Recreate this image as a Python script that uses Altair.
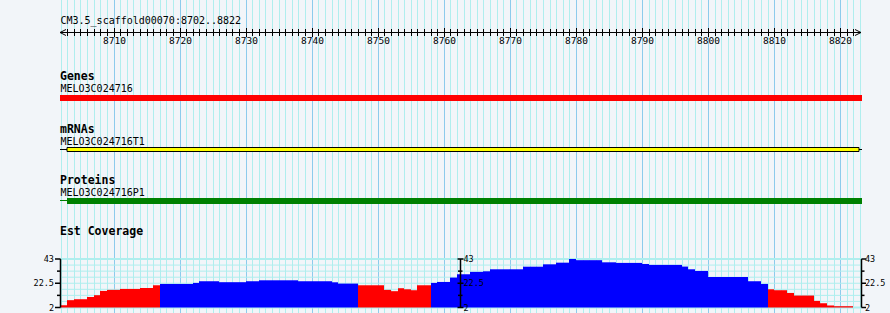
import altair as alt
import pandas as pd

# ---------------- data ----------------
REGION_LABEL = "CM3.5_scaffold00070:8702..8822"
VIEW = [8701.9, 8823.3]                      # visible bp range
GRID_POS = list(range(8702, 8824))           # one grid line per bp
RULER_TICKS = list(range(8703, 8823))
RULER_LABELS = [8710, 8720, 8730, 8740, 8750, 8760, 8770, 8780, 8790, 8800, 8810, 8820]
RULER_SPAN = [8701.9, 8823.1]

TRACK_TITLES = ["Genes", "mRNAs", "Proteins", "Est Coverage"]
FEATURE_NAMES = ["MELO3C024716", "MELO3C024716T1", "MELO3C024716P1"]
GENE_SPAN = [8701.9, 8823.3]
MRNA_LEAD = [8701.9, 8703.0]
MRNA_BOX = [8703.0, 8822.8]
MRNA_TAIL = [8822.8, 8823.3]
PROT_LEAD = [8701.9, 8703.0]
PROT_BOX = [8703.0, 8823.3]

COV_START = 8702
COVERAGE = [
    3.9, 8.2, 9.0, 9.0, 10.9, 12.4, 16.0, 16.9, 16.9, 17.7, 17.7, 17.7, 18.5, 18.5, 20.8,
    21.9, 21.9, 21.9, 21.9, 21.9, 22.8, 24.2, 24.2, 24.2, 23.4, 23.4, 23.4, 23.4, 24.2, 24.2,
    25.0, 25.0, 25.0, 25.0, 25.0, 25.0, 24.2, 24.2, 24.2, 24.2, 24.2, 23.3, 22.2, 22.2, 22.2,
    20.8, 20.8, 20.8, 20.8, 16.9, 15.8, 18.3, 17.4, 16.6, 20.8, 20.8,
    22.8, 23.6, 23.6, 27.3, 30.1, 30.1, 32.1, 32.1, 32.6, 34.3, 34.3, 34.3, 34.3, 34.3,
    36.5, 36.5, 36.5, 38.5, 38.5, 39.9, 39.9, 43.0, 42.0, 42.0, 42.0, 42.0, 40.2, 40.2,
    39.7, 39.7, 39.7, 39.7, 38.8, 38.0, 38.0, 38.0, 38.0, 38.0, 36.6, 34.3, 32.9, 32.9,
    27.8, 27.8, 27.8, 27.8, 27.8, 27.8, 24.2, 24.2, 21.9,
    17.4, 16.6, 16.6, 14.3, 12.1, 12.1, 12.1, 7.6, 5.6, 3.7, 3.1, 3.1, 3.1,
]
LOW_RANGES = [(8702, 8717), (8747, 8758), (8809, 8822)]
COV_DOMAIN = [2, 43]
COV_TICKS = [2, 12.25, 22.5, 32.75, 43]
COV_LABELLED = [2, 22.5, 43]
COV_GRID = [2, 7.125, 12.25, 17.375, 22.5, 27.625, 32.75, 37.875, 43]

# ---------------- style ----------------
BG = "#f2f5f9"
MINOR = "#afeeee"
MAJOR = "#8ccbec"
MONO = "DejaVu Sans Mono"

xs = alt.Scale(domain=VIEW, range=[60, 862], round=True, nice=False, zero=False)
ys = alt.Scale(domain=COV_DOMAIN, range=[307.5, 259], nice=False, zero=False)


def X(f):
    return alt.X(f, type="quantitative", scale=xs, axis=None)


def Y(f):
    return alt.Y(f, type="quantitative", scale=ys, axis=None)


def PX(f):
    return alt.X(f, type="quantitative", scale=None, axis=None)


def PY(f):
    return alt.Y(f, type="quantitative", scale=None, axis=None)


layers = []

# vertical grid
grid_df = pd.DataFrame({"pos": GRID_POS,
                        "kind": ["major" if p % 10 == 0 else "minor" for p in GRID_POS]})
layers.append(
    alt.Chart(grid_df).mark_rule(strokeWidth=1, xOffset=0.5).encode(
        x=X("pos"), y=alt.value(0), y2=alt.value(313),
        color=alt.Color("kind:N", scale=alt.Scale(domain=["minor", "major"], range=[MINOR, MAJOR]), legend=None),
    )
)

# coverage horizontal grid
hg_df = pd.DataFrame({"v": COV_GRID, "w": [2 if v in (2, 43) else 1 for v in COV_GRID]})
layers.append(
    alt.Chart(hg_df).mark_rule(color=MINOR).encode(
        x=alt.value(60), x2=alt.value(862), y=Y("v"),
        strokeWidth=alt.StrokeWidth("w:Q", scale=None),
    )
)

# coverage bars
starts = [COV_START + i for i in range(len(COVERAGE))]
cls = []
for s in starts:
    low = any(a <= s < b for a, b in LOW_RANGES)
    cls.append("low" if low else "high")
cov_df = pd.DataFrame({"start": starts, "end": [s + 1 for s in starts], "cov": COVERAGE,
                       "base": [COV_DOMAIN[0]] * len(COVERAGE), "cls": cls})
layers.append(
    alt.Chart(cov_df).mark_rect().encode(
        x=X("start"), x2="end", y=Y("cov"), y2="base",
        color=alt.Color("cls:N", scale=alt.Scale(domain=["low", "high"], range=["#ff0000", "#0000ff"]), legend=None),
    )
)

# coverage axes (left, middle, right)
AXES = [("left", 60.5), ("mid", 460.5), ("right", 861.5)]
ax_df = pd.DataFrame({"px": [a[1] for a in AXES], "lo": [COV_DOMAIN[0]] * 3, "hi": [COV_DOMAIN[1]] * 3})
layers.append(
    alt.Chart(ax_df).mark_rule(color="black", strokeWidth=1.5).encode(
        x=PX("px"), y=Y("hi"), y2="lo"
    )
)
tick_rows = []
for name, px in AXES:
    for v in COV_TICKS:
        major = v in COV_LABELLED
        if name == "left":
            x0, x1 = (55, px) if major else (57, px)
        elif name == "mid":
            x0, x1 = (px - 3, px + 3) if major else (px - 2.5, px + 2)
        else:
            x0, x1 = (px, px + 4.5) if major else (px, px + 3)
        tick_rows.append({"x0": x0, "x1": x1, "v": v})
layers.append(
    alt.Chart(pd.DataFrame(tick_rows)).mark_rule(color="black", strokeWidth=1.5).encode(
        x=PX("x0"), x2="x1", y=Y("v")
    )
)
lab_left = pd.DataFrame({"v": COV_LABELLED, "t": [f"{v:g}" for v in COV_LABELLED], "px": [54] * 3})
layers.append(
    alt.Chart(lab_left).mark_text(font=MONO, fontSize=8.5, align="right", baseline="middle", color="black").encode(
        x=PX("px"), y=Y("v"), text="t:N"
    )
)
lab_right = pd.DataFrame({"v": COV_LABELLED * 2, "t": [f"{v:g}" for v in COV_LABELLED] * 2,
                          "px": [463.5] * 3 + [865] * 3})
layers.append(
    alt.Chart(lab_right).mark_text(font=MONO, fontSize=8.5, align="left", baseline="middle", color="black").encode(
        x=PX("px"), y=Y("v"), text="t:N"
    )
)

# ruler
layers.append(
    alt.Chart(pd.DataFrame({"a": [RULER_SPAN[0]], "b": [RULER_SPAN[1]]})).mark_rule(color="black", strokeWidth=1).encode(
        x=X("a"), x2="b", y=alt.value(32.5)
    )
)
rt_df = pd.DataFrame({"pos": [p for p in RULER_TICKS if p % 10 != 0]})
layers.append(
    alt.Chart(rt_df).mark_rule(color="black", strokeWidth=1, xOffset=0.5).encode(
        x=X("pos"), y=alt.value(29), y2=alt.value(36)
    )
)
layers.append(
    alt.Chart(pd.DataFrame({"pos": RULER_LABELS})).mark_rule(color="black", strokeWidth=1, xOffset=0.5).encode(
        x=X("pos"), y=alt.value(28), y2=alt.value(37)
    )
)
layers.append(
    alt.Chart(pd.DataFrame({"pos": RULER_LABELS, "t": [str(p) for p in RULER_LABELS]})).mark_text(
        font=MONO, fontSize=9.5, align="center", baseline="alphabetic", color="black", dx=0.5
    ).encode(x=X("pos"), y=alt.value(44), text="t:N")
)
layers.append(
    alt.Chart(pd.DataFrame({"pos": [RULER_SPAN[0]]})).mark_point(
        shape="M2,-1L0,0L2,1", size=36, filled=False, color="black", strokeWidth=1, opacity=1
    ).encode(x=X("pos"), y=alt.value(32.5))
)
layers.append(
    alt.Chart(pd.DataFrame({"pos": [RULER_SPAN[1]]})).mark_point(
        shape="M-2,-1L0,0L-2,1", size=36, filled=False, color="black", strokeWidth=1, opacity=1
    ).encode(x=X("pos"), y=alt.value(32.5))
)

# texts
bold_df = pd.DataFrame({"t": TRACK_TITLES, "px": [60] * 4, "py": [80, 133, 183.5, 235]})
layers.append(
    alt.Chart(bold_df).mark_text(font=MONO, fontSize=11.5, fontWeight="bold", align="left",
                                 baseline="alphabetic", color="black").encode(
        x=PX("px"), y=PY("py"), text="t:N")
)
norm_df = pd.DataFrame({"t": [REGION_LABEL] + FEATURE_NAMES, "px": [60.5] * 4, "py": [24, 92, 144.5, 196]})
layers.append(
    alt.Chart(norm_df).mark_text(font=MONO, fontSize=10, align="left",
                                 baseline="alphabetic", color="black").encode(
        x=PX("px"), y=PY("py"), text="t:N")
)

# feature tracks
def span_df(sp):
    return pd.DataFrame({"s": [sp[0]], "e": [sp[1]]})


layers.append(
    alt.Chart(span_df(GENE_SPAN)).mark_rect(color="#ff0000").encode(
        x=X("s"), x2="e", y=alt.value(95), y2=alt.value(101))
)
layers.append(
    alt.Chart(span_df(MRNA_LEAD)).mark_rule(color="black", strokeWidth=1).encode(
        x=X("s"), x2="e", y=alt.value(149.5))
)
layers.append(
    alt.Chart(span_df(MRNA_TAIL)).mark_rule(color="black", strokeWidth=1).encode(
        x=X("s"), x2="e", y=alt.value(149.5))
)
layers.append(
    alt.Chart(span_df(MRNA_BOX)).mark_rect(fill="#ffff00", stroke="black", strokeWidth=1).encode(
        x=X("s"), x2="e", y=alt.value(147.5), y2=alt.value(151.5))
)
layers.append(
    alt.Chart(span_df(PROT_LEAD)).mark_rule(color="#008000", strokeWidth=1).encode(
        x=X("s"), x2="e", y=alt.value(200.5))
)
layers.append(
    alt.Chart(span_df(PROT_BOX)).mark_rect(color="#008000").encode(
        x=X("s"), x2="e", y=alt.value(198), y2=alt.value(204))
)

chart = alt.layer(*layers).resolve_scale(
    x="independent", y="independent", color="independent", strokeWidth="independent"
).properties(
    width=890, height=313, background=BG, padding=0,
    autosize=alt.AutoSizeParams(type="none"),
).configure_view(stroke=None)

chart.save("out.html", embed_options={"renderer": "svg", "actions": False})
